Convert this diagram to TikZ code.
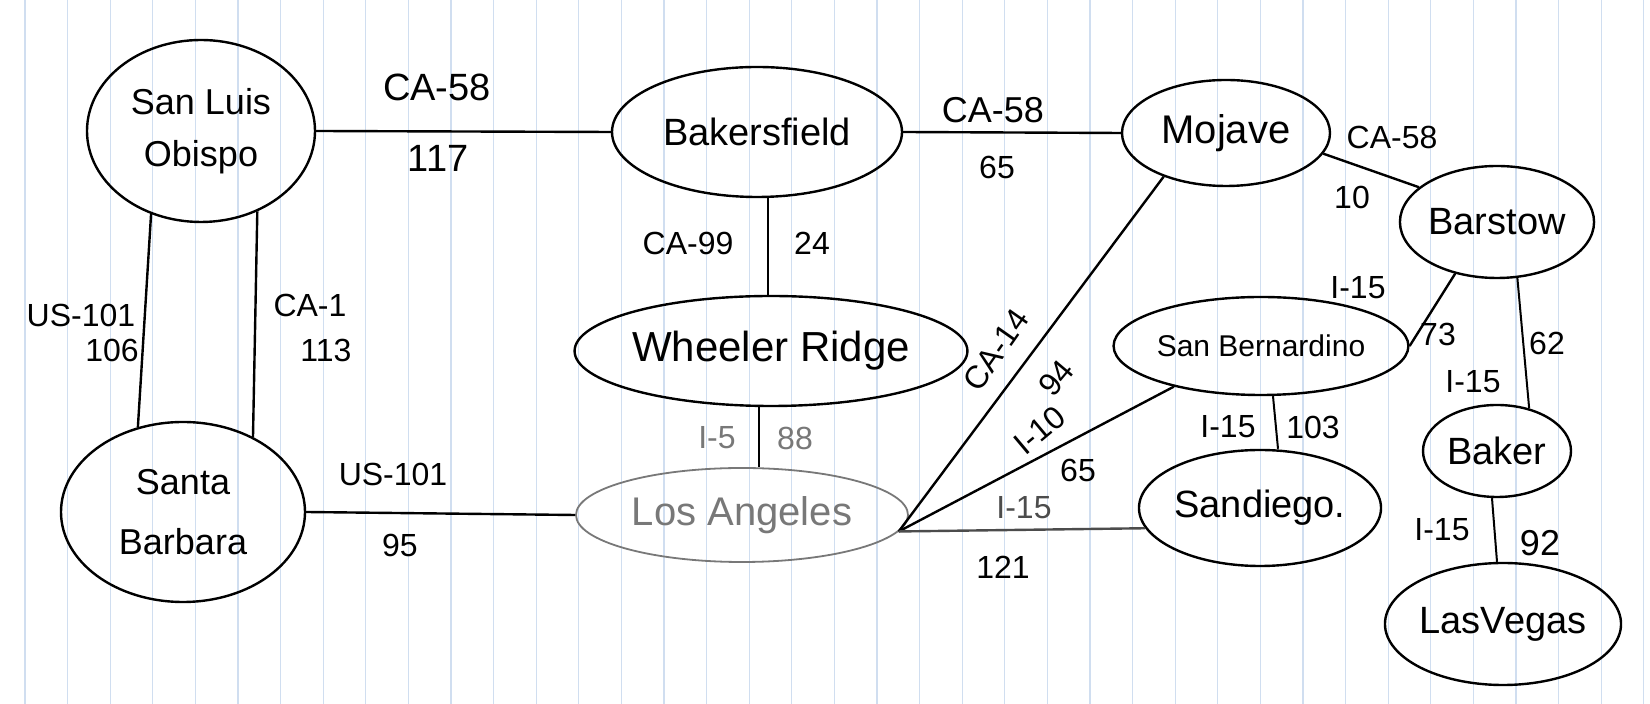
\documentclass[tikz,border=0pt]{standalone}
\usepackage{fontspec}
\setmainfont{Liberation Sans}
\usetikzlibrary{shapes.geometric,calc}
\definecolor{paper}{RGB}{208,222,240}
\definecolor{pencil}{RGB}{120,120,120}
\begin{document}
\begin{tikzpicture}[x=0.5pt,y=-0.5pt,
  city/.style={draw, ellipse, line width=1.2pt, inner sep=0pt, align=center,
    font=\fontsize{19}{24}\selectfont},
  road/.style={line width=1.2pt},
  lab/.style={inner sep=0pt, font=\fontsize{16}{18}\selectfont},
  paperline/.style={draw=paper, line width=0.6pt}]
\useasboundingbox[fill=white] (0,0) rectangle (1650,704);
\foreach \i in {0,...,38} \draw[paperline] ({25+42.6*\i},0) -- ({25+42.6*\i},704);

% cities
\node[city, minimum width=114pt, minimum height=91pt, font=\fontsize{18}{26}\selectfont] (slo) at (201,131) {San Luis\\Obispo};
\node[city, minimum width=145pt, minimum height=65pt] (bak) at (757,132) {Bakersfield};
\node[city, minimum width=187pt, minimum height=55pt, font=\fontsize{21}{24}\selectfont] (wr) at (771,351) {Wheeler Ridge};
\node[city, minimum width=166pt, minimum height=47pt, draw=pencil, text=pencil, line width=0.9pt, font=\fontsize{20}{24}\selectfont] (la) at (742,515) {Los Angeles};
\node[city, minimum width=122pt, minimum height=90pt, font=\fontsize{18}{30}\selectfont] (sb) at (183,512) {Santa\\Barbara};
\node[city, minimum width=104pt, minimum height=53pt, font=\fontsize{20}{24}\selectfont] (moj) at (1226,133) {Mojave};
\node[city, minimum width=91pt, minimum height=56pt] (bar) at (1497,222) {Barstow};
\node[city, minimum width=131pt, minimum height=49pt, font=\fontsize{15}{18}\selectfont] (sbe) at (1261,346) {San Bernardino};
\node[city, minimum width=118pt, minimum height=58pt] (sd) at (1260,508) {Sandiego.};
\node[city, minimum width=74pt, minimum height=46pt] (bkr) at (1497,451) {Baker};
\node[city, minimum width=110pt, minimum height=61pt] (lv) at (1503,624) {LasVegas};

% roads
\draw[road] (slo.east) -- (bak.west);
\draw[road] (slo.-121) -- (sb.118);
\draw[road] (slo.-55) -- (sb.47);
\draw[road] (sb.east) -- (la.west);
\draw[road] ($(bak.south)+(11,0)$) -- ($(wr.north)+(-3,0)$);
\draw[road] ($(wr.south)+(-12,0)$) -- ($(la.north)+(17,0)$);
\draw[road] (bak.east) -- (moj.west);
\draw[road] (moj.-12) -- (bar.156);
\draw[road] (bar.-129) -- (sbe.east);
\draw[road, line width=1pt] (bar.-70) -- (bkr.53);
\draw[road, line width=1pt] ($(bkr.south)+(-5,0)$) -- ($(lv.north)+(-6,0)$);
\draw[road, line width=1pt] ($(sbe.south)+(12,0)$) -- ($(sd.north)+(18,0)$);
\draw[road] (la.-6) -- (moj.-145);
\draw[road] (la.-6) -- (sbe.-155);
\draw[road, draw=black!70] (la.-6) -- (sd.-170);

% labels
\node[lab, font=\fontsize{19}{22}\selectfont] (l1a) at (437,87) {CA-58};
\node[lab, font=\fontsize{19}{22}\selectfont] (l1b) at (438,158) {117};
\node[lab] (l2a) at (81,315) {US-101};
\node[lab] (l2b) at (112,350) {106};
\node[lab] (l3a) at (310,305) {CA-1};
\node[lab] (l3b) at (326,350) {113};
\node[lab] (l4a) at (393,474) {US-101};
\node[lab] (l4b) at (400,545) {95};
\node[lab] (l5a) at (688,243) {CA-99};
\node[lab] (l5b) at (812,243) {24};
\node[lab, text=pencil] (l6a) at (717,438) {I-5};
\node[lab, text=pencil] (l6b) at (795,438) {88};
\node[lab, font=\fontsize{18}{22}\selectfont] (l7a) at (993,110) {CA-58};
\node[lab] (l7b) at (997,167) {65};
\node[lab] (l8a) at (1392,137) {CA-58};
\node[lab] (l8b) at (1352,197) {10};
\node[lab] (l9a) at (1358,288) {I-15};
\node[lab] (l9b) at (1438,334) {73};
\node[lab] (l10a) at (1473,382) {I-15};
\node[lab] (l10b) at (1547,343) {62};
\node[lab] (l11a) at (1442,530) {I-15};
\node[lab, font=\fontsize{18}{22}\selectfont] (l11b) at (1540,543) {92};
\node[lab] (l12a) at (1228,427) {I-15};
\node[lab] (l12b) at (1313,427) {103};
\node[lab, rotate=55] (l13a) at (996,350) {CA-14};
\node[lab, rotate=50] (l13b) at (1056,378) {94};
\node[lab, rotate=40] (l14a) at (1040,430) {I-10};
\node[lab] (l14b) at (1078,470) {65};
\node[lab, text=black!70] (l15a) at (1024,508) {I-15};
\node[lab] (l15b) at (1003,567) {121};
\end{tikzpicture}
\end{document}
